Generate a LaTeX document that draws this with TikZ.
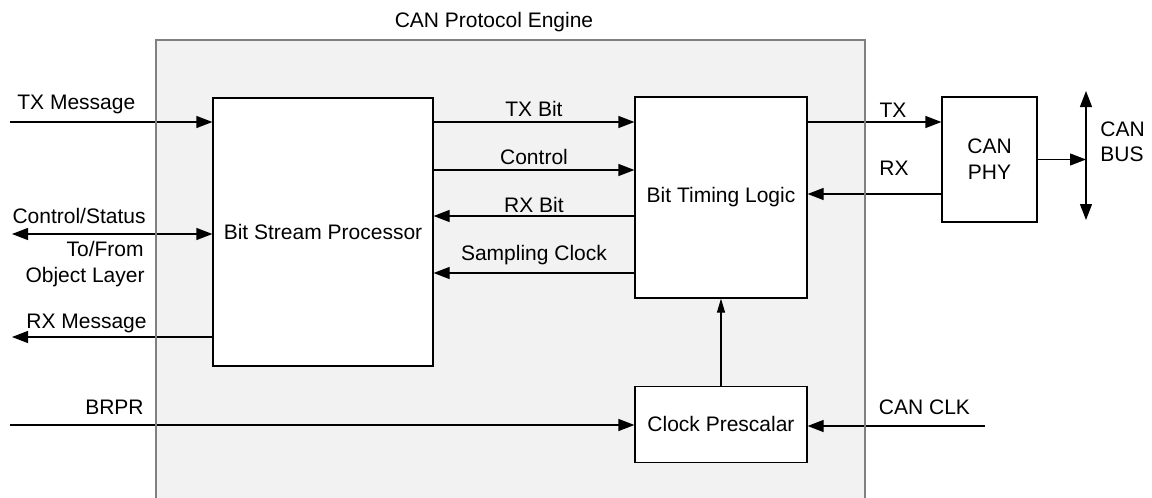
\documentclass[tikz,border=0pt]{standalone}
\usepackage{fontspec}
\setmainfont{Liberation Sans}
\usetikzlibrary{arrows.meta}
\usetikzlibrary{positioning}
\tikzset{font=\fontsize{10.5}{13}\selectfont,
    >={Triangle[length=8pt,width=6pt]},
    block/.style={
        draw,
        fill=white,
        line width=0.6pt,
        inner sep=0pt,
        align=center},
    lbl/.style={
        inner sep=0pt,
        text depth=0pt},
    engine/.style={fill=gray!10},
    engineline/.style={draw=gray, line width=1pt},
    small tip/.style={>={Triangle[length=7pt,width=4pt]}},
    every edge/.style={
        draw,
        ->,
        line width=0.6pt}}

\begin{document}
\begin{tikzpicture}[x=0.5pt, y=-0.5pt]
        \useasboundingbox (0,0) rectangle (1152,498);
        \fill[engine] (156,40) rectangle (865,520);
        \node[lbl, anchor=base] (enginelbl) at (494,27) {CAN Protocol Engine};

        \node[block, minimum width=110pt, minimum height=134pt] (bsp) at (323,232) {Bit Stream Processor};
        \node[block, minimum width=86pt, minimum height=100.5pt] (btl) at (721,197.5) {Bit Timing Logic};
        \node[block, minimum width=86pt, minimum height=38pt, below=43.5pt of btl] (cp) {Clock Prescalar};
        \node[block, minimum width=47.5pt, minimum height=62.5pt] (phy) at (989.5,159.5) {CAN\\PHY};

        % signal levels and free ends
        \coordinate (ytx) at (0,122);
        \coordinate (yctl) at (0,170);
        \coordinate (yrx) at (0,216);
        \coordinate (ysmp) at (0,273);
        \coordinate (yrxp) at (0,194);
        \coordinate (txmsg) at (10,122);
        \coordinate (ctlst) at (12,234);
        \coordinate (rxmsg) at (12,337);
        \coordinate (brpr) at (10,425);
        \coordinate (canclk) at (985,426);
        \coordinate (bustop) at (1086,91);
        \coordinate (busbot) at (1086,220);

        \draw (txmsg) edge (txmsg -| bsp.west);
        \draw (ctlst -| bsp.west) edge[<->] (ctlst);
        \draw (rxmsg -| bsp.west) edge (rxmsg);
        \draw (brpr) edge (brpr -| cp.west);

        \draw (bsp.east |- ytx) edge node[lbl, above=2.25pt] {TX Bit} (btl.west |- ytx);
        \draw (bsp.east |- yctl) edge node[lbl, above=2.25pt] {Control} (btl.west |- yctl);
        \draw (btl.west |- yrx) edge node[lbl, above=1.25pt] {RX Bit} (bsp.east |- yrx);
        \draw (btl.west |- ysmp) edge node[lbl, above=5.75pt] {Sampling Clock} (bsp.east |- ysmp);

        \draw (btl.east |- ytx) edge (phy.west |- ytx);
        \draw (phy.west |- yrxp) edge (btl.east |- yrxp);
        \draw (phy.east) edge (bustop |- phy.east);
        \draw (bustop) edge[<->] (busbot);

        \draw (cp) edge[small tip] (btl);
        \draw (canclk) edge (cp.east |- canclk);

        \node[lbl, anchor=base west] (txmsglbl) at (17,109.5) {TX Message};
        \node[lbl, anchor=base east] (ctlstlbl) at (146,223.5) {Control/Status};
        \node[lbl, anchor=base east] (tofromlbl) at (144,256.5) {To/From};
        \node[lbl, anchor=base east] (objlbl) at (145,282.5) {Object Layer};
        \node[lbl, anchor=base east] (rxmsglbl) at (147,328.5) {RX Message};
        \node[lbl, anchor=base east] (brprlbl) at (144,414.5) {BRPR};
        \node[lbl, anchor=base] (txlbl) at (893,117.5) {TX};
        \node[lbl, anchor=base] (rxlbl) at (894,175.5) {RX};
        \node[lbl, anchor=base] (canclklbl) at (924.5,414.5) {CAN CLK};
        \node[lbl, anchor=base west] (buslbl) at (1100,136.5) {CAN};
        \node[lbl, anchor=base west] (buslbl2) at (1100,161.5) {BUS};

        \draw[engineline] (156,520) |- (865,40) -- (865,520);
\end{tikzpicture}
\end{document}
